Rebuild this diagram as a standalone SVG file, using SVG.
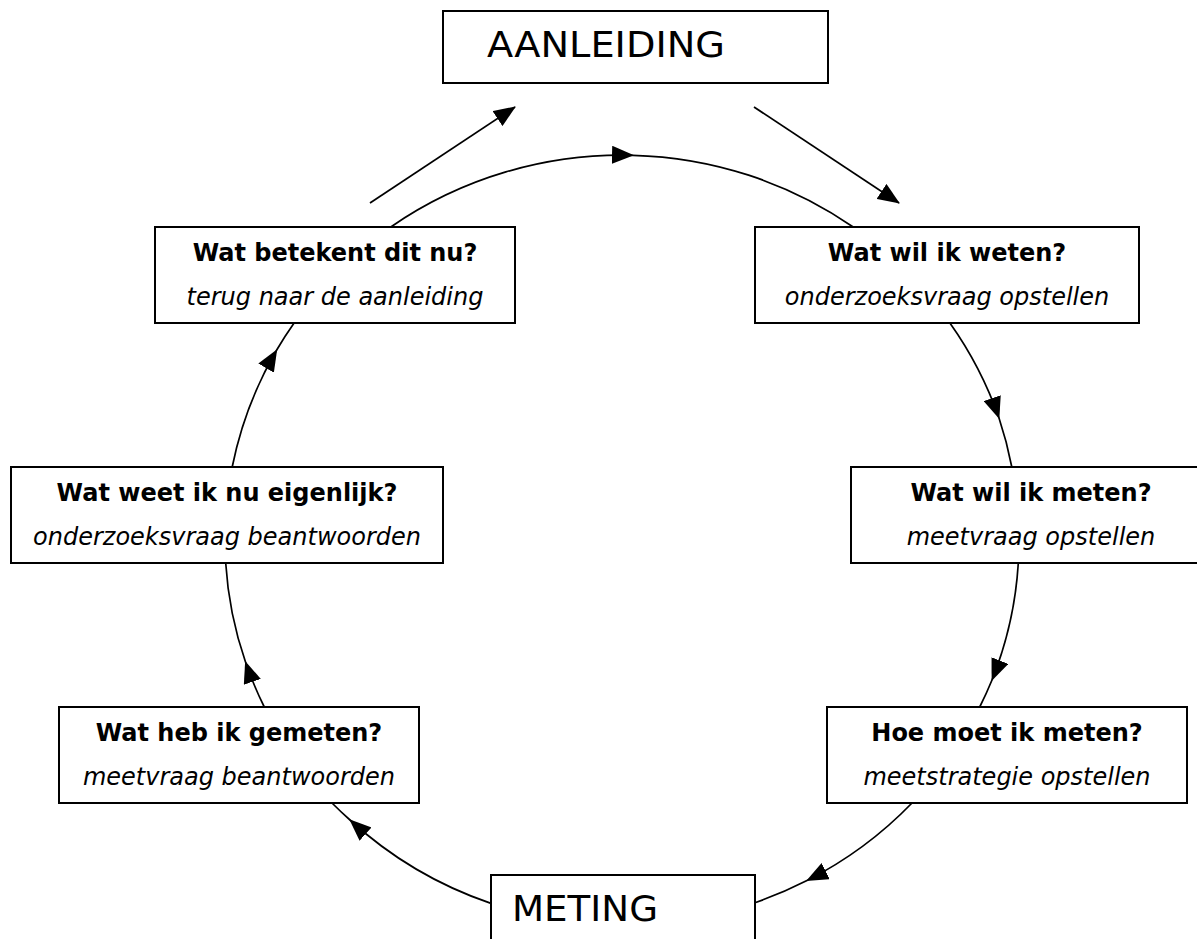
<svg xmlns="http://www.w3.org/2000/svg" width="1197" height="939" viewBox="0 0 1197 939">
<style>
.box{fill:#fff;stroke:#000;stroke-width:2}
.ln{fill:none;stroke:#000;stroke-width:1.7}
.t{font-family:"DejaVu Sans",Verdana,sans-serif;font-size:24px;font-weight:bold;text-anchor:middle;fill:#000}
.s{font-family:"DejaVu Sans",Verdana,sans-serif;font-size:24px;font-style:italic;text-anchor:middle;fill:#000}
.big{font-family:"DejaVu Sans",Verdana,sans-serif;font-size:36px;fill:#000}
</style>
<defs>
<marker id="ah" viewBox="0 0 22 18" markerWidth="22" markerHeight="18" refX="21" refY="9" orient="auto" markerUnits="userSpaceOnUse">
<path d="M0,0 L22,9 L0,18 z" fill="#000"/>
</marker>
</defs>
<rect width="1197" height="939" fill="#fff"/>
<g id="connectors">
<path class="ln" marker-mid="url(#ah)" d="M390.8,227 A397,385 0 0 1 633,155.3 A397,385 0 0 1 853.2,227"/>
<path class="ln" marker-mid="url(#ah)" d="M949.9,323 A397,385 0 0 1 999,418 A397,385 0 0 1 1011.8,467"/>
<path class="ln" marker-mid="url(#ah)" d="M1018.3,563 A397,385 0 0 1 992,680 A397,385 0 0 1 979.7,707"/>
<path class="ln" marker-mid="url(#ah)" d="M912,803 A397,385 0 0 1 807,880.6 A397,385 0 0 1 755,902.7"/>
<path class="ln" marker-mid="url(#ah)" d="M491,903.4 A397,385 0 0 1 350,820 A397,385 0 0 1 332,803"/>
<path class="ln" marker-mid="url(#ah)" d="M264.3,707 A397,385 0 0 1 245.5,662 A397,385 0 0 1 225.7,563"/>
<path class="ln" marker-mid="url(#ah)" d="M232.2,467 A397,385 0 0 1 276.7,350 A397,385 0 0 1 294.1,323"/>
<path class="ln" marker-end="url(#ah)" d="M370,203 L515,107"/>
<path class="ln" marker-end="url(#ah)" d="M754,107 L899,203"/>
</g>
<g id="aanleiding">
<rect class="box" x="443" y="11" width="385" height="72"/>
<text class="big" x="487" y="57" textLength="238" lengthAdjust="spacingAndGlyphs">AANLEIDING</text>
</g>
<g id="meting">
<rect class="box" x="491" y="875" width="264" height="80"/>
<text class="big" x="512" y="921" textLength="146" lengthAdjust="spacingAndGlyphs">METING</text>
</g>
<g id="betekent">
<rect class="box" x="155" y="227" width="360" height="96"/>
<text class="t" x="335" y="261">Wat betekent dit nu?</text>
<text class="s" x="335" y="305">terug naar de aanleiding</text>
</g>
<g id="weten">
<rect class="box" x="755" y="227" width="384" height="96"/>
<text class="t" x="947" y="261">Wat wil ik weten?</text>
<text class="s" x="947" y="305">onderzoeksvraag opstellen</text>
</g>
<g id="meten">
<rect class="box" x="851" y="467" width="360" height="96"/>
<text class="t" x="1031" y="501">Wat wil ik meten?</text>
<text class="s" x="1031" y="545">meetvraag opstellen</text>
</g>
<g id="hoe">
<rect class="box" x="827" y="707" width="360" height="96"/>
<text class="t" x="1007" y="741">Hoe moet ik meten?</text>
<text class="s" x="1007" y="785">meetstrategie opstellen</text>
</g>
<g id="gemeten">
<rect class="box" x="59" y="707" width="360" height="96"/>
<text class="t" x="239" y="741">Wat heb ik gemeten?</text>
<text class="s" x="239" y="785">meetvraag beantwoorden</text>
</g>
<g id="eigenlijk">
<rect class="box" x="11" y="467" width="432" height="96"/>
<text class="t" x="227" y="501">Wat weet ik nu eigenlijk?</text>
<text class="s" x="227" y="545">onderzoeksvraag beantwoorden</text>
</g>
</svg>
